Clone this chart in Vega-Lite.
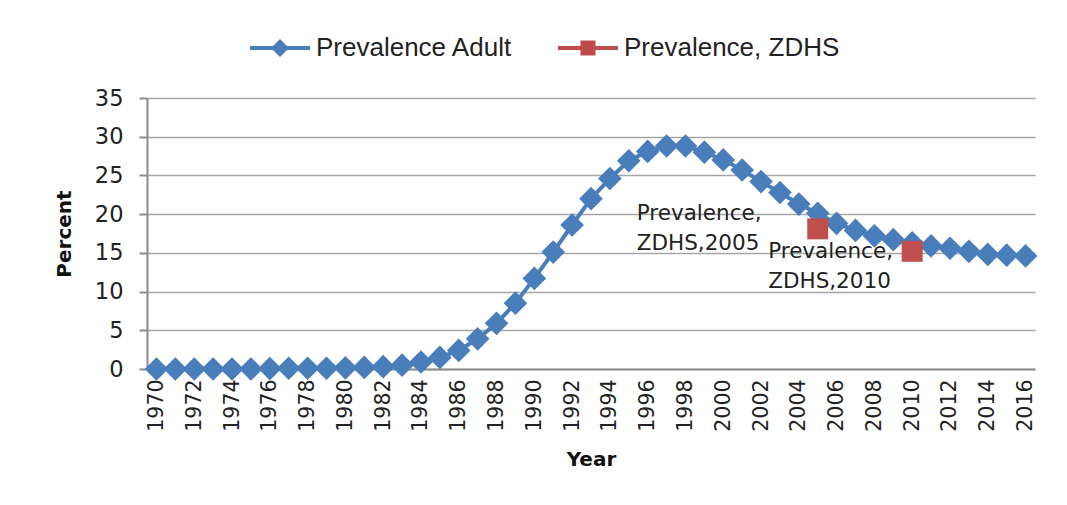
{
  "$schema": "https://vega.github.io/schema/vega-lite/v6.json",
  "autosize": "none",
  "width": 888,
  "height": 271,
  "padding": {"left": 147, "top": 98, "right": 32, "bottom": 136},
  "background": "white",
  "config": {
    "font": "DejaVu Sans",
    "view": {"stroke": null}
  },
  "data": {
    "values": [
      {"year": 1970, "value": 0.0, "series": "Prevalence Adult"},
      {"year": 1971, "value": 0.0, "series": "Prevalence Adult"},
      {"year": 1972, "value": 0.0, "series": "Prevalence Adult"},
      {"year": 1973, "value": 0.0, "series": "Prevalence Adult"},
      {"year": 1974, "value": 0.0, "series": "Prevalence Adult"},
      {"year": 1975, "value": 0.0, "series": "Prevalence Adult"},
      {"year": 1976, "value": 0.05, "series": "Prevalence Adult"},
      {"year": 1977, "value": 0.1, "series": "Prevalence Adult"},
      {"year": 1978, "value": 0.1, "series": "Prevalence Adult"},
      {"year": 1979, "value": 0.1, "series": "Prevalence Adult"},
      {"year": 1980, "value": 0.15, "series": "Prevalence Adult"},
      {"year": 1981, "value": 0.2, "series": "Prevalence Adult"},
      {"year": 1982, "value": 0.3, "series": "Prevalence Adult"},
      {"year": 1983, "value": 0.5, "series": "Prevalence Adult"},
      {"year": 1984, "value": 0.9, "series": "Prevalence Adult"},
      {"year": 1985, "value": 1.5, "series": "Prevalence Adult"},
      {"year": 1986, "value": 2.4, "series": "Prevalence Adult"},
      {"year": 1987, "value": 3.9, "series": "Prevalence Adult"},
      {"year": 1988, "value": 5.9, "series": "Prevalence Adult"},
      {"year": 1989, "value": 8.5, "series": "Prevalence Adult"},
      {"year": 1990, "value": 11.7, "series": "Prevalence Adult"},
      {"year": 1991, "value": 15.1, "series": "Prevalence Adult"},
      {"year": 1992, "value": 18.6, "series": "Prevalence Adult"},
      {"year": 1993, "value": 22.0, "series": "Prevalence Adult"},
      {"year": 1994, "value": 24.6, "series": "Prevalence Adult"},
      {"year": 1995, "value": 26.9, "series": "Prevalence Adult"},
      {"year": 1996, "value": 28.1, "series": "Prevalence Adult"},
      {"year": 1997, "value": 28.8, "series": "Prevalence Adult"},
      {"year": 1998, "value": 28.8, "series": "Prevalence Adult"},
      {"year": 1999, "value": 28.0, "series": "Prevalence Adult"},
      {"year": 2000, "value": 27.0, "series": "Prevalence Adult"},
      {"year": 2001, "value": 25.7, "series": "Prevalence Adult"},
      {"year": 2002, "value": 24.2, "series": "Prevalence Adult"},
      {"year": 2003, "value": 22.8, "series": "Prevalence Adult"},
      {"year": 2004, "value": 21.3, "series": "Prevalence Adult"},
      {"year": 2005, "value": 20.1, "series": "Prevalence Adult"},
      {"year": 2006, "value": 18.8, "series": "Prevalence Adult"},
      {"year": 2007, "value": 17.9, "series": "Prevalence Adult"},
      {"year": 2008, "value": 17.2, "series": "Prevalence Adult"},
      {"year": 2009, "value": 16.7, "series": "Prevalence Adult"},
      {"year": 2010, "value": 16.3, "series": "Prevalence Adult"},
      {"year": 2011, "value": 15.9, "series": "Prevalence Adult"},
      {"year": 2012, "value": 15.6, "series": "Prevalence Adult"},
      {"year": 2013, "value": 15.2, "series": "Prevalence Adult"},
      {"year": 2014, "value": 14.8, "series": "Prevalence Adult"},
      {"year": 2015, "value": 14.7, "series": "Prevalence Adult"},
      {"year": 2016, "value": 14.6, "series": "Prevalence Adult"},
      {"year": 2005, "value": 18.1, "series": "Prevalence, ZDHS", "label": "Prevalence,\nZDHS,2005"},
      {"year": 2010, "value": 15.2, "series": "Prevalence, ZDHS", "label": "Prevalence,\nZDHS,2010"}
    ]
  },
  "encoding": {
    "x": {
      "field": "year",
      "type": "ordinal",
      "scale": {"type": "point", "padding": 0.5},
      "axis": {
        "title": "Year",
        "values": [1970, 1972, 1974, 1976, 1978, 1980, 1982, 1984, 1986, 1988, 1990, 1992, 1994, 1996, 1998, 2000, 2002, 2004, 2006, 2008, 2010, 2012, 2014, 2016],
        "labelAngle": -90,
        "labelFontSize": 20.5,
        "labelColor": "#222222",
        "labelPadding": 10,
        "ticks": false,
        "domainColor": "#8c8c8c",
        "domainWidth": 2,
        "grid": false,
        "titleFontSize": 20,
        "titleFontWeight": "bold",
        "titleColor": "#111111",
        "titlePadding": 18
      }
    },
    "y": {
      "field": "value",
      "type": "quantitative",
      "scale": {"domain": [0, 35], "nice": false},
      "axis": {
        "title": "Percent",
        "values": [0, 5, 10, 15, 20, 25, 30, 35],
        "labelFontSize": 22.5,
        "labelColor": "#222222",
        "labelPadding": 16,
        "tickSize": 8,
        "tickColor": "#8c8c8c",
        "tickWidth": 2,
        "domainColor": "#8c8c8c",
        "domainWidth": 2,
        "gridColor": "#a6a6a6",
        "gridWidth": 1.5,
        "titleFontSize": 20,
        "titleFontWeight": "bold",
        "titleColor": "#111111",
        "titlePadding": 20
      }
    }
  },
  "layer": [
    {
      "transform": [{"filter": "datum.series === 'Prevalence Adult'"}],
      "mark": {"type": "line", "strokeWidth": 4},
      "encoding": {
        "color": {
          "field": "series",
          "type": "nominal",
          "scale": {"domain": ["Prevalence Adult", "Prevalence, ZDHS"], "range": ["#4a7ebb", "#be4b48"]},
          "legend": {
            "title": null,
            "orient": "none",
            "direction": "horizontal",
            "legendX": 103,
            "legendY": -80,
            "padding": 0,
            "symbolSize": 3600,
            "labelFont": "Liberation Sans",
            "labelFontSize": 26,
            "labelColor": "#222222",
            "labelOffset": 6,
            "columnPadding": 45,
            "labelLimit": 400,
            "encode": {
              "symbols": {
                "update": {
                  "shape": {"signal": "datum.value === 'Prevalence Adult' ? 'M-1,-0.067L1,-0.067L1,0.067L-1,0.067Z M-0.3,0L0,-0.3L0.3,0L0,0.3Z' : 'M-1,-0.067L1,-0.067L1,0.067L-1,0.067Z M-0.25,-0.25L0.25,-0.25L0.25,0.25L-0.25,0.25Z'"},
                  "fill": {"signal": "datum.value === 'Prevalence Adult' ? '#4a7ebb' : '#be4b48'"},
                  "fillOpacity": {"value": 1},
                  "strokeWidth": {"value": 0},
                  "opacity": {"value": 1}
                }
              }
            }
          }
        }
      }
    },
    {
      "transform": [{"filter": "datum.series === 'Prevalence Adult'"}],
      "mark": {"type": "point", "shape": "diamond", "filled": true, "size": 560, "color": "#4a7ebb", "opacity": 1}
    },
    {
      "transform": [{"filter": "datum.series === 'Prevalence, ZDHS'"}],
      "mark": {"type": "point", "shape": "square", "filled": true, "size": 440, "color": "#c0504d", "opacity": 1}
    },
    {
      "transform": [{"filter": "datum.series === 'Prevalence, ZDHS' && datum.year === 2005"}],
      "mark": {"type": "text", "align": "left", "baseline": "middle", "dx": -181, "dy": -15, "fontSize": 21.5, "lineHeight": 30, "lineBreak": "\n", "color": "#222222"},
      "encoding": {"text": {"field": "label"}}
    },
    {
      "transform": [{"filter": "datum.series === 'Prevalence, ZDHS' && datum.year === 2010"}],
      "mark": {"type": "text", "align": "left", "baseline": "middle", "dx": -144, "dy": 1, "fontSize": 21.5, "lineHeight": 30, "lineBreak": "\n", "color": "#222222"},
      "encoding": {"text": {"field": "label"}}
    }
  ]
}
